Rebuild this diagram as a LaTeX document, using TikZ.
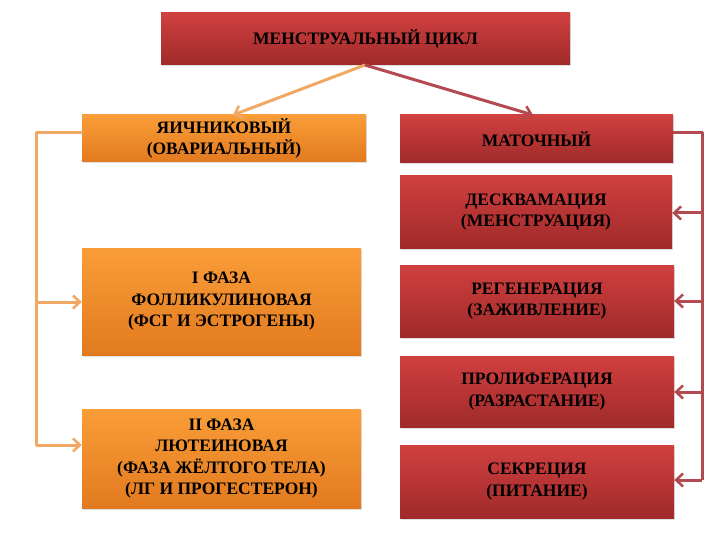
\documentclass[tikz,border=0pt]{standalone}
\usepackage{fontspec}
\setmainfont{Liberation Serif}
\usetikzlibrary{arrows.meta,shadows}
\definecolor{rtop}{HTML}{D0403F}
\definecolor{rbot}{HTML}{A02A2A}
\definecolor{otop}{HTML}{FA9D38}
\definecolor{obot}{HTML}{E27A1F}
\definecolor{oline}{HTML}{F2A865}
\definecolor{rline}{HTML}{B24A50}
\begin{document}
\begin{tikzpicture}[x=1pt,y=-1pt,
  box/.style={rectangle, draw=none, align=center, inner sep=2pt,
    font=\bfseries\fontsize{17.5}{21.5}\selectfont, text=black,
    drop shadow={shadow xshift=1pt, shadow yshift=-1.5pt, opacity=0.25}},
  redbox/.style={box, top color=rtop, bottom color=rbot},
  orbox/.style={box, top color=otop, bottom color=obot},
  oarr/.style={draw=oline, line width=3pt, -{Straight Barb[length=7pt,width=13pt,line width=2.5pt]}},
  rarr/.style={draw=rline, line width=3pt, -{Straight Barb[length=7pt,width=13pt,line width=2.5pt]}},
  oln/.style={draw=oline, line width=3pt},
  rln/.style={draw=rline, line width=3pt}]
\useasboundingbox (0,0) rectangle (720,540);
\fill[white] (0,0) rectangle (720,540);

\node[redbox, minimum width=409pt, minimum height=52pt] (top) at (365.5,39) {МЕНСТРУАЛЬНЫЙ ЦИКЛ};
\node[orbox, minimum width=284pt, minimum height=47pt] (ovar) at (224,138.5) {ЯИЧНИКОВЫЙ\\(ОВАРИАЛЬНЫЙ)};
\node[redbox, minimum width=273pt, minimum height=48pt] (mat) at (536.5,139) {МАТОЧНЫЙ};
\node[redbox, minimum width=272pt, minimum height=72pt] (desk) at (536,212) {ДЕСКВАМАЦИЯ\\(МЕНСТРУАЦИЯ)};
\node[redbox, minimum width=274pt, minimum height=72pt] (regen) at (537,301) {РЕГЕНЕРАЦИЯ\\(ЗАЖИВЛЕНИЕ)};
\node[redbox, minimum width=274pt, minimum height=71pt] (prolif) at (537,391.5) {ПРОЛИФЕРАЦИЯ\\(РАЗРАСТАНИЕ)};
\node[redbox, minimum width=274pt, minimum height=73pt] (secr) at (537,481.5) {СЕКРЕЦИЯ\\(ПИТАНИЕ)};
\node[orbox, minimum width=279pt, minimum height=107pt] (f1) at (221.5,301.5) {I ФАЗА\\ФОЛЛИКУЛИНОВАЯ\\(ФСГ И ЭСТРОГЕНЫ)};
\node[orbox, minimum width=279pt, minimum height=99pt] (f2) at (221.5,458.5) {II ФАЗА\\ЛЮТЕИНОВАЯ\\(ФАЗА ЖЁЛТОГО ТЕЛА)\\(ЛГ И ПРОГЕСТЕРОН)};

% top arrows
\coordinate (tb) at (365,65);
\draw[oarr] (tb) -- (233,115);
\draw[rarr] (tb) -- (533,115);

% left connector
\coordinate (lc1) at (36,133);
\coordinate (lc2) at (36,445);
\draw[oln, line cap=round, line join=round] (ovar.west |- lc1) -- (lc1) -- (lc2);
\draw[oarr] (36,302) -- (f1.west |- 0,302);
\draw[oarr] (lc2) -- (f2.west |- lc2);

% right connector
\coordinate (rc1) at (702,133);
\coordinate (rc2) at (702,480);
\draw[rln, line join=round] (mat.east |- rc1) -- (rc1) -- (rc2);
\draw[rarr] (702,213) -- (desk.east |- 0,213);
\draw[rarr] (702,301) -- (regen.east |- 0,301);
\draw[rarr] (702,392) -- (prolif.east |- 0,392);
\draw[rarr] (rc2) -- (secr.east |- rc2);
\end{tikzpicture}
\end{document}
